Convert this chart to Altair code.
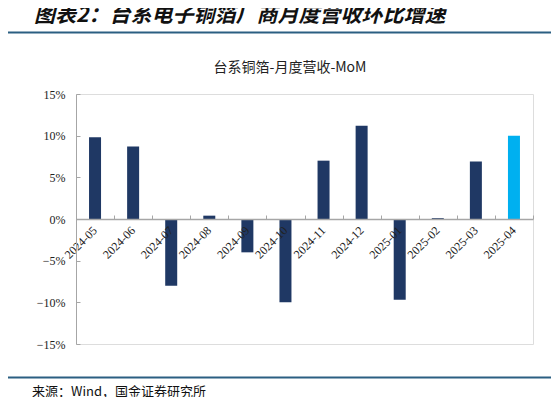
import altair as alt
import pandas as pd

months = ["2024-05", "2024-06", "2024-07", "2024-08", "2024-09", "2024-10",
          "2024-11", "2024-12", "2025-01", "2025-02", "2025-03", "2025-04"]
mom_pct = [9.8, 8.7, -8.0, 0.4, -4.0, -10.0, 7.0, 11.2, -9.7, 0.1, 6.9, 10.0]
y_ticks = [-0.15, -0.10, -0.05, 0.0, 0.05, 0.10, 0.15]

heading = "图表2：台系电子铜箔厂商月度营收环比增速"
chart_title = "台系铜箔-月度营收-MoM"
source = "来源：Wind，国金证券研究所"

df = pd.DataFrame({"month": months, "mom": [v / 100 for v in mom_pct]})

W, H = 457, 250
AX = "#A6A6A6"
LINE = "#2B5F82"
SERIF = "Liberation Serif"
CJK = "Noto Sans CJK SC"

x_scale = alt.Scale(domain=months, padding=0)
y_scale = alt.Scale(domain=[-0.15, 0.15], nice=False, zero=False)

bars = alt.Chart(df).mark_bar(size=12).encode(
    x=alt.X("month:N", sort=months, scale=x_scale,
            axis=alt.Axis(orient="bottom", offset=-H / 2, title=None,
                          labelAngle=-45, labelAlign="right", labelBaseline="middle",
                          labelPadding=9, ticks=False, tickSize=0,
                          domainColor=AX, domainWidth=1.5,
                          labelFont=SERIF, labelFontSize=12, labelColor="#222",
                          labelOverlap=False, grid=False, zindex=1)),
    y=alt.Y("mom:Q", scale=y_scale,
            axis=alt.Axis(orient="left", values=y_ticks, format=".0%", title=None,
                          ticks=False, tickSize=0, labelPadding=11,
                          domainColor=AX, domainWidth=1,
                          labelFont=SERIF, labelFontSize=12, labelColor="#222",
                          grid=False, zindex=1)),
    color=alt.condition(alt.datum.month == "2025-04",
                        alt.value("#00B0F0"), alt.value("#1F3864")),
)

tick_layer = alt.Chart(df).mark_bar(size=12, opacity=0).encode(
    x=alt.X("month:N", sort=months, scale=x_scale,
            axis=alt.Axis(orient="top", offset=-H / 2, title=None, labels=False,
                          domain=False, ticks=True, tickSize=4, tickColor=AX,
                          tickBand="extent", grid=False, zindex=1)),
    y=alt.Y("mom:Q", scale=y_scale,
            axis=alt.Axis(orient="right", offset=-W, values=y_ticks, title=None,
                          labels=False, domain=False, ticks=True, tickSize=4,
                          tickColor=AX, grid=False, zindex=1)),
)

one = lambda s: pd.DataFrame({"t": [s]})

head_txt = alt.Chart(one(heading)).mark_text(
    font=CJK, fontSize=21, fontWeight="bold", fontStyle="italic",
    align="left", baseline="middle", color="#111"
).encode(text="t:N", x=alt.value(-42), y=alt.value(-78))

title_txt = alt.Chart(one(chart_title)).mark_text(
    font=CJK, fontSize=14, align="center", baseline="middle", color="#222"
).encode(text="t:N", x=alt.value(214), y=alt.value(-26))

src_txt = alt.Chart(one(source)).mark_text(
    font=CJK, fontSize=13, align="left", baseline="middle", color="#111"
).encode(text="t:N", x=alt.value(-44), y=alt.value(298))

top_rule = alt.Chart(one("a")).mark_rule(color=LINE, strokeWidth=2).encode(
    x=alt.value(-71), x2=alt.value(477), y=alt.value(-61.5))
bot_rule = alt.Chart(one("b")).mark_rule(color=LINE, strokeWidth=2).encode(
    x=alt.value(-71), x2=alt.value(477), y=alt.value(283.5))

chart = alt.layer(
    bars, tick_layer, head_txt, title_txt, src_txt, top_rule, bot_rule
).resolve_axis(x="independent", y="independent").properties(
    width=W, height=H,
    autosize=alt.AutoSizeParams(type="none"),
    padding={"left": 68, "top": 86, "right": 18, "bottom": 53},
).configure_view(stroke=None).configure(background="white")

chart.save("out.html", embed_options={"renderer": "svg", "actions": False})
